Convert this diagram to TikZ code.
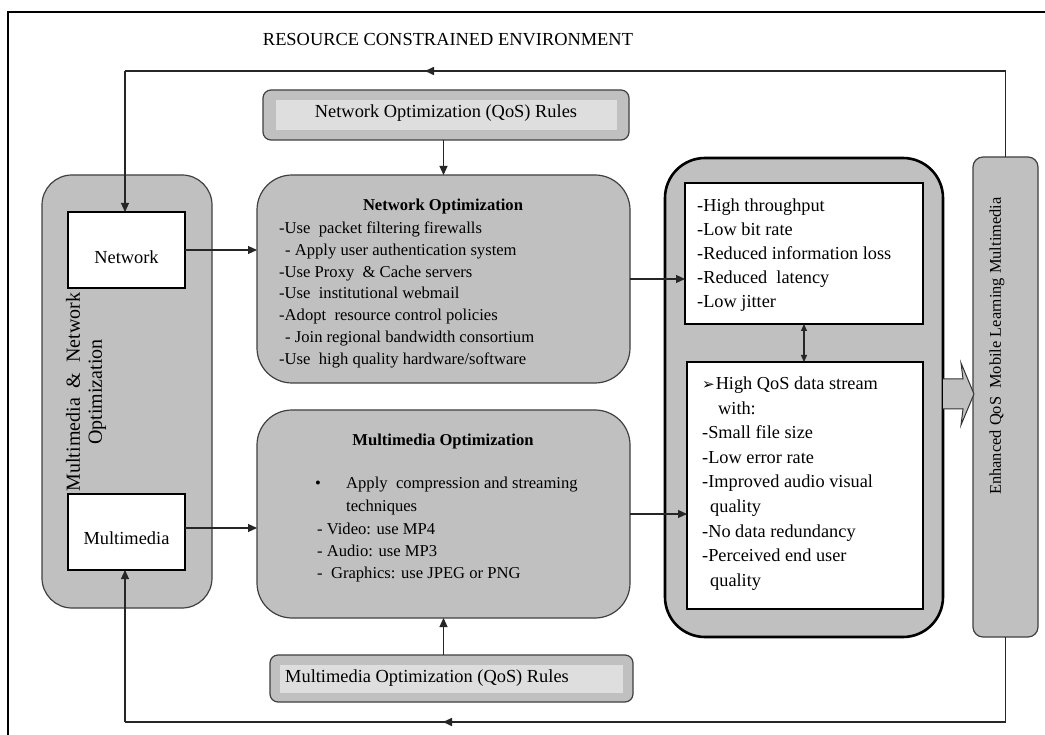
\documentclass[tikz,border=0pt]{standalone}
\usepackage{fontspec}
\setmainfont{Liberation Serif}
\newfontfamily\symfont{DejaVu Sans}
\usetikzlibrary{arrows.meta}
\definecolor{boxgray}{HTML}{C0C0C0}
\definecolor{rulegray}{HTML}{DEDEDE}
\begin{document}
\begin{tikzpicture}[x=1pt,y=-1pt,
  gbox/.style={draw=black!75, line width=1.2pt, fill=boxgray, inner sep=0pt, outer sep=0pt, rounded corners=#1},
  gbox/.default=30pt,
  wbox/.style={draw=black, line width=1.4pt, fill=white, inner sep=0pt, outer sep=0pt},
  ibox/.style={fill=rulegray, draw=none, inner sep=0pt},
  line/.style={line width=1.1pt, draw=black!85},
  arr/.style={line, -{Triangle[length=9pt,width=8pt]}},
  arrtwo/.style={line, {Triangle[length=7pt,width=6pt]}-{Triangle[length=7pt,width=6pt]}},
  lab/.style={inner sep=0pt, font=\fontsize{18.4}{22}\selectfont},
  bt/.style={inner sep=0pt, font=\fontsize{16.6}{20}\selectfont, anchor=base west},
  rt/.style={inner sep=0pt, font=\fontsize{18.3}{22}\selectfont, anchor=base west}
]
\useasboundingbox (0,0) rectangle (1045,735);
\fill[white] (0,0) rectangle (1045,735);

% outer frame
\coordinate (f1) at (8,735);
\coordinate (f2) at (8,12);
\coordinate (f3) at (1045,12);
\draw[line width=1.3pt] (f1) -- (f2) -- (f3);

\node[lab] (title) at (448,40) {RESOURCE CONSTRAINED ENVIRONMENT};

% boxes
\node[gbox=30pt, minimum width=170pt, minimum height=433pt] (LB) at (127,391.5) {};
\node[wbox, minimum width=117pt, minimum height=76pt] (NW) at (126.5,250) {};
\node[wbox, minimum width=117pt, minimum height=76pt] (MM) at (126.5,532) {};
\node[gbox=8pt, minimum width=366pt, minimum height=50pt] (NR) at (446,115) {};
\node[ibox, minimum width=341pt, minimum height=30pt] (NRi) at (446.5,115) {};
\node[gbox=35pt, minimum width=373pt, minimum height=208pt] (NO) at (443.5,279) {};
\node[gbox=35pt, minimum width=373pt, minimum height=208pt] (MO) at (443.5,514) {};
\node[gbox=8pt, minimum width=363pt, minimum height=47pt] (MR) at (451.5,678.5) {};
\node[ibox, minimum width=343pt, minimum height=28pt] (MRi) at (451.5,679) {};
\node[gbox=40pt, draw=black, line width=2.6pt, minimum width=278pt, minimum height=479pt] (RB) at (804,397.5) {};
\node[wbox, minimum width=238pt, minimum height=141pt] (TW) at (804,253.5) {};
\node[wbox, minimum width=236pt, minimum height=247pt] (BW) at (805,485.5) {};
\node[gbox=10pt, minimum width=65pt, minimum height=480pt] (VB) at (1005.5,397) {};

% hollow arrow
\draw[fill=boxgray, draw=black!80, line width=1pt] (943,379) -- (963,379) -- (961,363) -- (974,394) -- (961,425) -- (963,409) -- (943,409);

% texts
\node[lab] (NRt) at (446,113) {Network Optimization (QoS) Rules};
\node[lab, anchor=west] (MRt) at (285,678) {Multimedia Optimization (QoS) Rules};
\node[lab] (NWt) at (126.5,257) {Network};
\node[lab] (MMt) at (126.5,538) {Multimedia};
\node[rotate=90, align=center, inner sep=0pt, font=\fontsize{20}{22}\selectfont] (LBt) at (86,392) {Multimedia\ \ \&\ \ Network\\Optimization};
\node[rotate=90, inner sep=0pt, font=\fontsize{16.4}{18}\selectfont] (VBt) at (997,346) {Enhanced QoS\ \ Mobile Learning Multimedia};

\node[bt, anchor=base] (NOt) at (443,210.5) {\bfseries Network Optimization};
\foreach \x/\t [count=\i] in {279/{-Use\ \ packet filtering firewalls},
  285/{- Apply user authentication system},
  279/{-Use Proxy\ \ \& Cache servers},
  279/{-Use\ \ institutional webmail},
  279/{-Adopt\ \ resource control policies},
  285/{- Join regional bandwidth consortium},
  279/{-Use\ \ high quality hardware/software}}
  \node[bt] (nol\i) at (\x,{233.5+21.8*(\i-1)}) {\t};

\node[bt, anchor=base] (MOt) at (443,446) {\bfseries Multimedia Optimization};
\node[bt] (mob) at (315,488.5) {\textbullet};
\foreach \x/\y/\t [count=\i] in {346/488.5/{Apply\ \ compression and streaming},
  346/511.5/{techniques},
  317/534.5/{- Video: use MP4},
  317/556/{- Audio: use MP3},
  317/578/{-\ \ Graphics: use JPEG or PNG}}
  \node[bt] (mol\i) at (\x,\y) {\t};

\foreach \t [count=\i] in {-High throughput, -Low bit rate, -Reduced information loss, -Reduced\ \ latency, -Low jitter}
  \node[rt] (twl\i) at (697,{212+24*(\i-1)}) {\t};

\foreach \x/\t [count=\i] in {702/{{\symfont\fontsize{15}{15}\selectfont ➢}\hspace{1pt}High QoS data stream},
  718/{with:},
  702/{-Small file size},
  702/{-Low error rate},
  702/{-Improved audio visual},
  710/{quality},
  702/{-No data redundancy},
  702/{-Perceived end user},
  710/{quality}}
  \node[rt] (bwl\i) at (\x,{389.5+24.6*(\i-1)}) {\t};

% connectors
\draw[arr] (NO.north |- NR.south) -- (NO.north);
\draw[arr] (MO.south |- MR.north) -- (MO.south);
\draw[arr] (NW.east) -- (NW.east -| NO.west);
\draw[arr] ([yshift=4pt]MM.east) -- ([yshift=4pt]MM.east -| MO.west);
\draw[arr] (NO.east) -- (NO.east -| TW.west);
\draw[arr] (MO.east) -- (MO.east -| BW.west);
\draw[arrtwo] (TW.south) -- (TW.south |- BW.north);

\coordinate (tr) at (1005.5,71);
\coordinate (tl) at (125,71);
\coordinate (ta) at (425,71);
\coordinate (tb) at (475,71);
\draw[line] (VB.north) -- (tr) -- (tl);
\draw[arr] (tl) -- (tl |- NW.north);
\draw[arr, line width=1.6pt] (tb) -- (ta);

\coordinate (br) at (1005.5,722);
\coordinate (bl) at (125,722);
\coordinate (ba) at (443,722);
\coordinate (bb) at (500,722);
\draw[line] (VB.south) -- (br) -- (bl);
\draw[arr] (bl) -- (bl |- MM.south);
\draw[arr, line width=1.6pt] (bb) -- (ba);
\end{tikzpicture}
\end{document}
